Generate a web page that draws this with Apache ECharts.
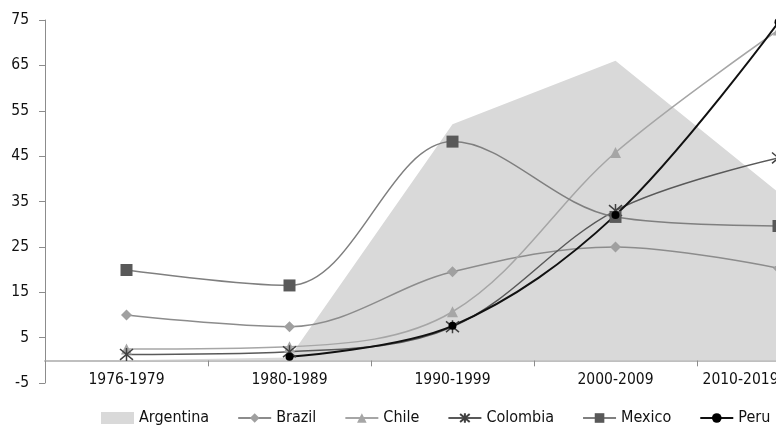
<!DOCTYPE html>
<html>
<head>
<meta charset="utf-8">
<script src="https://cdn.jsdelivr.net/npm/echarts@6/dist/echarts.min.js"></script>
<style>html,body{margin:0;padding:0;background:#fff}#c{width:776px;height:434px}</style>
</head>
<body>
<div id="c"></div>
<script>
var categories = ['1976-1979', '1980-1989', '1990-1999', '2000-2009', '2010-2019'];
var argentina = [0, 0.6, 52, 66, 37];
var brazil = [10, 7.4, 19.5, 25, 20.3];
var chile = [2.5, 3.0, 10.7, 45.8, 72.8];
var colombia = [1.3, 1.9, 7.4, 33, 44.6];
var mexico = [19.9, 16.5, 48.2, 31.6, 29.6];
var peru = [null, 0.8, 7.6, 32, 74.5];
var yTicks = { min: -5, max: 75, interval: 10 };

var FONT = "'DejaVu Sans Condensed', 'Liberation Sans Narrow', sans-serif";
var starPath = 'path://M0 0L10 10M10 0L0 10M5 -1L5 11';

var chart = echarts.init(document.getElementById('c'), null, { renderer: 'canvas' });
chart.setOption({
  animation: false,
  backgroundColor: '#fff',
  textStyle: { fontFamily: FONT },
  grid: { left: 45, width: 815, top: 20, bottom: 51, containLabel: false, outerBoundsMode: 'none' },
  legend: {
    left: 96, top: 405, width: 720, itemWidth: 33, itemHeight: 12, itemGap: 28,
    textStyle: { fontFamily: FONT, fontSize: 16, color: '#111' },
    data: [
      { name: 'Argentina', icon: 'rect', itemStyle: { color: '#d9d9d9' } },
      'Brazil', 'Chile', 'Colombia', 'Mexico', 'Peru'
    ]
  },
  xAxis: {
    type: 'category', data: categories, boundaryGap: true,
    axisLine: { onZero: true, lineStyle: { color: '#bfbfbf', width: 2 } },
    axisTick: { show: true, length: 6, lineStyle: { color: '#8c8c8c' } },
    axisLabel: { margin: -11, fontFamily: FONT, fontSize: 15.5, color: '#111', alignMaxLabel: 'right' },
    splitLine: { show: false }
  },
  yAxis: {
    type: 'value', min: yTicks.min, max: yTicks.max, interval: yTicks.interval,
    axisLine: { show: true, onZero: false, lineStyle: { color: '#8c8c8c', width: 1 } },
    axisTick: { show: true, length: 6, lineStyle: { color: '#8c8c8c' } },
    axisLabel: { margin: 16, fontFamily: FONT, fontSize: 15.5, color: '#111' },
    splitLine: { show: false }
  },
  series: [
    {
      name: 'Argentina', type: 'line', data: argentina, symbol: 'none', z: 1,
      lineStyle: { width: 0, color: '#d9d9d9' },
      itemStyle: { color: '#d9d9d9' },
      areaStyle: { color: '#d9d9d9', opacity: 1 }
    },
    {
      name: 'Brazil', type: 'line', data: brazil, smooth: 0.35,
      symbol: 'diamond', symbolSize: 11,
      itemStyle: { color: '#a0a0a0' },
      lineStyle: { color: '#8c8c8c', width: 1.5 }
    },
    {
      name: 'Chile', type: 'line', data: chile, smooth: 0.35,
      symbol: 'triangle', symbolSize: 11,
      itemStyle: { color: '#a6a6a6' },
      lineStyle: { color: '#a6a6a6', width: 1.5 }
    },
    {
      name: 'Colombia', type: 'line', data: colombia, smooth: 0.35,
      symbol: starPath, symbolSize: 13,
      itemStyle: { color: 'rgba(0,0,0,0)', borderColor: '#404040', borderWidth: 1.5 },
      lineStyle: { color: '#595959', width: 1.5 }
    },
    {
      name: 'Mexico', type: 'line', data: mexico, smooth: 0.35,
      symbol: 'rect', symbolSize: 12,
      itemStyle: { color: '#595959' },
      lineStyle: { color: '#7f7f7f', width: 1.5 }
    },
    {
      name: 'Peru', type: 'line', data: peru, smooth: 0.35,
      symbol: 'circle', symbolSize: 8,
      itemStyle: { color: '#000' },
      lineStyle: { color: '#111', width: 2 }
    }
  ]
});
</script>
</body>
</html>
